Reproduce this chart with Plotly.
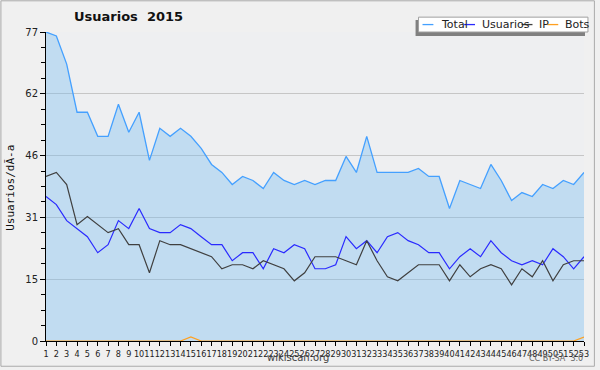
import plotly.graph_objects as go

weeks = list(range(1, 54))
total = [77, 76, 69, 57, 57, 51, 51, 59, 52, 57, 45, 53, 51, 53, 51, 48, 44, 42, 39, 41,
         40, 38, 42, 40, 39, 40, 39, 40, 40, 46, 42, 51, 42, 42, 42, 42, 43, 41, 41, 33,
         40, 39, 38, 44, 40, 35, 37, 36, 39, 38, 40, 39, 42]
usuarios = [36, 34, 30, 28, 26, 22, 24, 30, 28, 33, 28, 27, 27, 29, 28, 26, 24, 24, 20, 22,
            22, 18, 23, 22, 24, 23, 18, 18, 19, 26, 23, 25, 22, 26, 27, 25, 24, 22, 22, 18,
            21, 23, 21, 25, 22, 20, 19, 20, 19, 23, 21, 18, 21]
ip = [41, 42, 39, 29, 31, 29, 27, 28, 24, 24, 17, 25, 24, 24, 23, 22, 21, 18, 19, 19,
      18, 20, 19, 18, 15, 17, 21, 21, 21, 20, 19, 25, 20, 16, 15, 17, 19, 19, 19, 15,
      19, 16, 18, 19, 18, 14, 18, 16, 20, 15, 19, 20, 20]
bots = [0] * 14 + [1] + [0] * 37 + [1]
series_names = ["Total", "Usuarios", "IP", "Bots"]
series_colors = ["#44a0ff", "#2a2aff", "#404040", "#ffa020"]
y_max = 77
y_ticks = [0, 15.4, 30.8, 46.2, 61.6, 77]
y_tick_text = ["0", "15", "31", "46", "62", "77"]

W, H = 600, 370
L, R, T, B = 46, 11, 32, 26
PW, PH = W - L - R, H - T - B


def px(x):
    return (x - L) / PW


def py(y):
    return (H - B - y) / PH


fig = go.Figure()
fig.add_trace(go.Scatter(x=weeks, y=total, mode="lines", name="Total",
                         line=dict(color=series_colors[0], width=1.3),
                         fill="tozeroy", fillcolor="rgba(121,188,241,0.38)"))
fig.add_trace(go.Scatter(x=weeks, y=usuarios, mode="lines", name="Usuarios",
                         line=dict(color=series_colors[1], width=1.2)))
fig.add_trace(go.Scatter(x=weeks, y=ip, mode="lines", name="IP",
                         line=dict(color=series_colors[2], width=1.2)))
fig.add_trace(go.Scatter(x=weeks, y=bots, mode="lines", name="Bots",
                         line=dict(color=series_colors[3], width=1.2)))

shapes = []
annotations = []
# outer border
shapes.append(dict(type="rect", xref="paper", yref="paper",
                   x0=px(0.5), x1=px(W - 0.5), y0=py(H - 0.5), y1=py(0.5),
                   line=dict(color="#aaaaaa", width=1), layer="below"))
# legend shadow + box
shapes.append(dict(type="rect", xref="paper", yref="paper",
                   x0=px(419), x1=px(590), y0=py(36), y1=py(20),
                   line=dict(width=0), fillcolor="#808080", layer="above"))
shapes.append(dict(type="rect", xref="paper", yref="paper",
                   x0=px(422), x1=px(593), y0=py(32), y1=py(17),
                   line=dict(color="#a0a0a0", width=1), fillcolor="white", layer="above"))
leg_line_x = [426, 468, 526, 552]
leg_text_x = [443, 484, 542, 568]
for name, col, lx, tx in zip(series_names, series_colors, leg_line_x, leg_text_x):
    shapes.append(dict(type="line", xref="paper", yref="paper",
                       x0=px(lx), x1=px(lx + 11), y0=py(24.5), y1=py(24.5),
                       line=dict(color=col, width=1.3), layer="above"))
    annotations.append(dict(text=name, xref="paper", yref="paper", x=px(tx), y=py(24.5),
                            xanchor="left", yanchor="middle", showarrow=False,
                            font=dict(family="DejaVu Sans", size=11, color="#222222")))

annotations.append(dict(text="<b>Usuarios  2015</b>", xref="paper", yref="paper",
                        x=px(129), y=py(16), xanchor="center", yanchor="middle",
                        showarrow=False, font=dict(family="DejaVu Sans", size=13, color="#111111")))
annotations.append(dict(text="Usuarios/dÃ-a", xref="paper", yref="paper",
                        x=px(10), y=py(189), xanchor="center", yanchor="middle", textangle=-90,
                        showarrow=False, font=dict(family="DejaVu Sans Mono", size=11, color="#111111")))
annotations.append(dict(text="wikiscan.org", xref="paper", yref="paper",
                        x=px(300), y=py(361), xanchor="center", yanchor="middle",
                        showarrow=False, font=dict(family="DejaVu Sans", size=10, color="#444444")))
annotations.append(dict(text="CC BY-SA  3.0", xref="paper", yref="paper",
                        x=px(590), y=py(362), xanchor="right", yanchor="middle",
                        showarrow=False, font=dict(family="DejaVu Sans", size=8, color="#666666")))

fig.update_layout(
    width=W, height=H,
    margin=dict(l=L, r=R, t=T, b=B, pad=0),
    paper_bgcolor="#f0f0f0", plot_bgcolor="#eeeff1",
    showlegend=False,
    shapes=shapes, annotations=annotations,
    xaxis=dict(range=[1, 53], tickmode="array", tickvals=weeks,
               ticktext=[str(w) for w in weeks], tickangle=0,
               showgrid=False, zeroline=False, showline=True, linecolor="black", linewidth=1,
               ticks="outside", ticklen=4, tickcolor="black",
               tickfont=dict(family="DejaVu Sans Condensed, DejaVu Sans", size=9, color="#222222")),
    yaxis=dict(range=[0, y_max], tickmode="array", tickvals=y_ticks, ticktext=y_tick_text,
               showgrid=True, gridcolor="#c6c6c6", gridwidth=1, zeroline=False,
               showline=True, linecolor="black", linewidth=1,
               ticks="outside", ticklen=5, tickcolor="black",
               minor=dict(tickmode="array", tickvals=[i * 3.85 for i in range(21)],
                          ticks="outside", ticklen=4, tickcolor="black", showgrid=False),
               tickfont=dict(family="DejaVu Sans", size=10, color="#222222")),
)

post = (
    "document.documentElement.style.margin='0';"
    "document.body.style.margin='0';"
)
fig.write_html("out.html", config={"displayModeBar": False}, post_script=post)
